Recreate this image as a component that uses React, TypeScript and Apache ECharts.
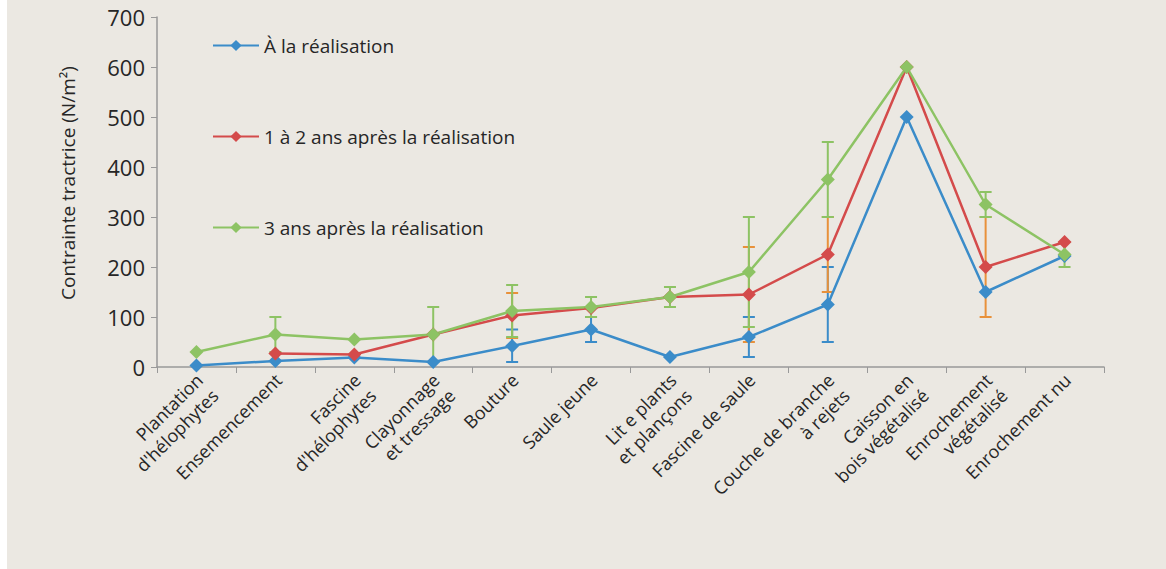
import React, { useEffect, useRef } from "react";
import * as echarts from "echarts";

const categories = [
  "Plantation\nd'hélophytes",
  "Ensemencement",
  "Fascine\nd'hélophytes",
  "Clayonnage\net tressage",
  "Bouture",
  "Saule jeune",
  "Lit e plants\net plançons",
  "Fascine de saule",
  "Couche de branche\nà rejets",
  "Caisson en\nbois végétalisé",
  "Enrochement\nvégétalisé",
  "Enrochement nu",
];

const seriesNames = [
  "À la réalisation",
  "1 à 2 ans après la réalisation",
  "3 ans après la réalisation",
];

const blueValues = [3, 12, 19, 10, 42, 75, 20, 60, 125, 500, 150, 222];
const redValues = [null, 27, 25, 65, 103, 118, 140, 145, 225, 600, 200, 250];
const greenValues = [30, 65, 55, 65, 112, 120, 140, 190, 375, 600, 325, 225];

// [category index, low, high]
const blueErr = [
  [4, 10, 75],
  [5, 50, 100],
  [7, 20, 100],
  [8, 50, 200],
];
const redErr = [
  [4, 58, 148],
  [7, 50, 240],
  [8, 150, 300],
  [10, 100, 300],
];
const greenErr = [
  [1, 30, 100],
  [3, 10, 120],
  [4, 60, 164],
  [5, 100, 140],
  [6, 120, 160],
  [7, 80, 300],
  [8, 300, 450],
  [10, 300, 350],
  [11, 200, 250],
];

const BLUE = "#3b8cc9";
const RED = "#d44b4b";
const GREEN = "#8dc364";
const ORANGE = "#e8913a";
const FONT = "'Open Sans', 'Noto Sans', sans-serif";
const TEXT = "#262626";

function errorSeries(data: number[][], color: string) {
  return {
    type: "custom",
    z: 1,
    silent: true,
    data,
    renderItem: (params: any, api: any) => {
      const x = api.value(0);
      const lo = api.coord([x, api.value(1)]);
      const hi = api.coord([x, api.value(2)]);
      const w = 6;
      const style = { stroke: color, lineWidth: 2 };
      return {
        type: "group",
        children: [
          { type: "line", shape: { x1: lo[0], y1: lo[1], x2: hi[0], y2: hi[1] }, style },
          { type: "line", shape: { x1: hi[0] - w, y1: hi[1], x2: hi[0] + w, y2: hi[1] }, style },
          { type: "line", shape: { x1: lo[0] - w, y1: lo[1], x2: lo[0] + w, y2: lo[1] }, style },
        ],
      };
    },
  };
}

function lineSeries(name: string, data: (number | null)[], color: string) {
  return {
    type: "line",
    name,
    data,
    z: 3,
    symbol: "diamond",
    symbolSize: 14,
    connectNulls: false,
    itemStyle: { color },
    lineStyle: { color, width: 2.5 },
  };
}

export default function App() {
  const ref = useRef<HTMLDivElement>(null);
  useEffect(() => {
    document.body.style.margin = "0";
    const chart = echarts.init(ref.current!, null, { renderer: "svg" });
    chart.setOption({
      animation: false,
      backgroundColor: "#ebe8e2",
      textStyle: { fontFamily: FONT },
      grid: { left: 150, right: 62, top: 17, bottom: 202, containLabel: false },
      legend: {
        orient: "vertical",
        left: 200,
        top: 31,
        itemWidth: 46,
        itemHeight: 14,
        itemGap: 72,
        data: seriesNames,
        textStyle: { fontFamily: FONT, fontSize: 19, color: TEXT },
      },
      xAxis: {
        type: "category",
        data: categories,
        boundaryGap: true,
        axisLine: { lineStyle: { color: "#999", width: 1.5 } },
        axisTick: { show: true, length: 6, lineStyle: { color: "#999" } },
        axisLabel: {
          rotate: 45,
          interval: 0,
          color: TEXT,
          fontFamily: FONT,
          fontSize: 18,
          lineHeight: 22,
          margin: -3,
          padding: [0, 7, 0, 0],
          verticalAlign: "top",
        },
      },
      yAxis: {
        type: "value",
        min: 0,
        max: 700,
        interval: 100,
        name: "Contrainte tractrice (N/m²)",
        nameLocation: "middle",
        nameGap: 80,
        nameTextStyle: { fontSize: 19, color: TEXT, fontFamily: FONT, padding: [0, 0, 0, 18] },
        axisLine: { show: true, lineStyle: { color: "#999", width: 1.5 } },
        axisTick: { show: true, length: 6, lineStyle: { color: "#999" } },
        splitLine: { show: false },
        axisLabel: { fontSize: 22, color: TEXT, fontFamily: FONT, margin: 12 },
      },
      series: [
        errorSeries(blueErr, BLUE),
        errorSeries(redErr, ORANGE),
        errorSeries(greenErr, GREEN),
        lineSeries(seriesNames[0], blueValues, BLUE),
        lineSeries(seriesNames[1], redValues, RED),
        lineSeries(seriesNames[2], greenValues, GREEN),
      ],
    });
    return () => chart.dispose();
  }, []);
  return (
    <div style={{ position: "absolute", left: 0, top: 0, width: 1166, height: 569, background: "#ffffff" }}>
      <div ref={ref} style={{ position: "absolute", left: 7, top: 0, width: 1159, height: 569 }} />
    </div>
  );
}
